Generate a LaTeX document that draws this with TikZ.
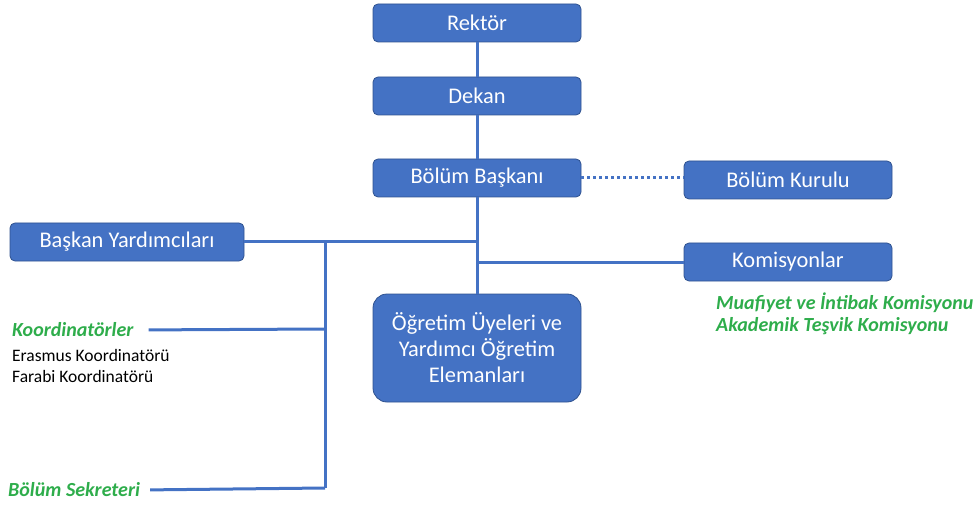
\documentclass[tikz,border=0pt]{standalone}
\usepackage{fontspec}
\setmainfont{Carlito}
\definecolor{kutumavi}{HTML}{4472C4}
\definecolor{kenarmavi}{HTML}{2F528F}
\definecolor{yesil}{HTML}{2EAD4B}
\tikzset{
  birim/.style={draw=kenarmavi, line width=0.8pt, fill=kutumavi, text=white,
    rounded corners=5pt, minimum width=208pt, minimum height=38pt,
    font=\fontsize{22.4}{26}\selectfont},
  hat/.style={draw=kutumavi, line width=3pt},
  noktali/.style={hat, dash pattern=on 3pt off 3pt},
  grup/.style={text=yesil, anchor=west, inner sep=0pt,
    font=\fontsize{20}{24}\selectfont\bfseries\itshape},
  uye/.style={text=black, anchor=west, inner sep=0pt,
    font=\fontsize{17.5}{20}\selectfont}
}
\begin{document}
\begin{tikzpicture}[x=1pt,y=-1pt]
  \useasboundingbox (0,0) rectangle (980,505);

  \node[birim] (rektor) at (477,23) {Rektör};
  \node[birim] (dekan) at (477,96) {Dekan};
  \node[birim] (baskan) at (477,178) {Bölüm Başkanı};
  \node[birim] (kurul) at (788,180) {Bölüm Kurulu};
  \node[birim, minimum width=234pt] (yardimci) at (127,242) {Başkan Yardımcıları};
  \node[birim] (komisyon) at (788,262) {Komisyonlar};
  \node[birim, minimum height=108pt, rounded corners=14pt, align=center]
    (ogretim) at (477,348) {Öğretim Üyeleri ve\\Yardımcı Öğretim\\Elemanları};

  % komisyon ve koordinator listeleri
  \node[grup] (muafiyet) at (716,303) {Muafiyet ve İntibak Komisyonu};
  \node[grup] (tesvik) at (716,326) {Akademik Teşvik Komisyonu};
  \node[grup] (koord) at (12,330) {Koordinatörler};
  \node[uye] (erasmus) at (12,355) {Erasmus Koordinatörü};
  \node[uye] (farabi) at (12,376) {Farabi Koordinatörü};
  \node[grup] (sekreter) at (8,490) {Bölüm Sekreteri};

  \coordinate (ust) at (477,242);
  \coordinate (sag) at (477,262);
  \coordinate (kol) at (325,242);
  \coordinate (kolk) at (325,329);
  \coordinate (kols) at (325,488);

  \draw[hat] (rektor) -- (dekan);
  \draw[hat] (dekan) -- (baskan);
  \draw[hat] (baskan) -- (ogretim);
  \draw[noktali] (baskan.east) -- (kurul.west |- baskan.east);
  \draw[hat] (yardimci.east) -- (ust);
  \draw[hat] (sag) -- (komisyon.west);
  \draw[hat] (kol) -- (kols);
  \draw[hat, shorten <=15pt] (koord.east) -- (kolk);
  \draw[hat, shorten <=10pt] (sekreter.east) -- (kols);
\end{tikzpicture}
\end{document}
